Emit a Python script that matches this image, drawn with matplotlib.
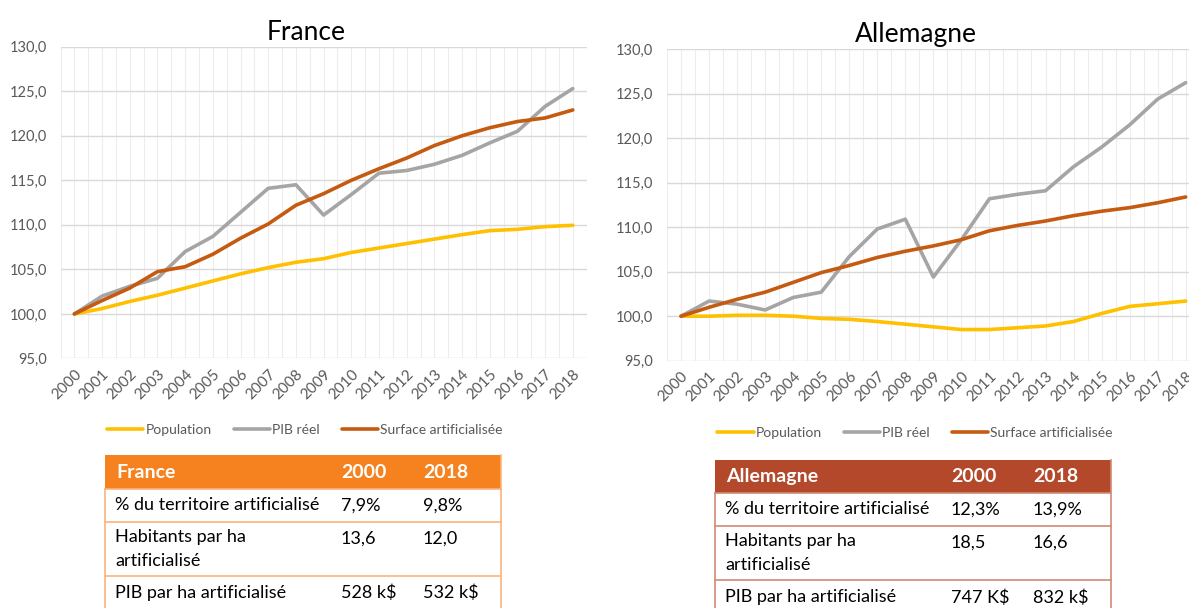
import numpy as np
import matplotlib.pyplot as plt

plt.rcParams['font.family'] = ['Lato', 'DejaVu Sans']

years = [str(y) for y in range(2000, 2019)]

fr_pop = [100.0, 100.6, 101.4, 102.1, 102.9, 103.7, 104.5, 105.2, 105.8, 106.2, 106.9, 107.4, 107.9, 108.4, 108.9, 109.35, 109.5, 109.8, 109.95]
fr_pib = [100.0, 102.0, 103.1, 104.0, 107.0, 108.7, 111.4, 114.1, 114.5, 111.1, 113.4, 115.8, 116.1, 116.8, 117.8, 119.2, 120.5, 123.3, 125.3]
fr_surf = [100.0, 101.5, 102.9, 104.75, 105.3, 106.7, 108.5, 110.1, 112.2, 113.5, 115.0, 116.3, 117.5, 118.9, 120.0, 120.9, 121.6, 122.0, 122.9]

de_pop = [100.0, 100.0, 100.1, 100.1, 100.0, 99.75, 99.65, 99.4, 99.1, 98.8, 98.5, 98.5, 98.7, 98.9, 99.4, 100.3, 101.1, 101.4, 101.7]
de_pib = [100.0, 101.7, 101.35, 100.7, 102.1, 102.7, 106.7, 109.8, 110.9, 104.4, 108.6, 113.2, 113.7, 114.1, 116.8, 119.0, 121.5, 124.4, 126.25]
de_surf = [100.0, 101.0, 101.9, 102.7, 103.8, 104.9, 105.7, 106.6, 107.3, 107.9, 108.6, 109.6, 110.2, 110.7, 111.3, 111.8, 112.2, 112.75, 113.4]

series_names = ['Population', 'PIB réel', 'Surface artificialisée']
series_colors = ['#FFC000', '#A5A5A5', '#C55A11']

row_labels = ['% du territoire artificialisé', 'Habitants par ha\nartificialisé', 'PIB par ha artificialisé']
fr_2000 = ['7,9%', '13,6', '528 k$']
fr_2018 = ['9,8%', '12,0', '532 k$']
de_2000 = ['12,3%', '18,5', '747 K$']
de_2018 = ['13,9%', '16,6', '832 k$']

fig = plt.figure(figsize=(11.89, 6.08), dpi=100)

charts = [('France', [0.0509, 0.4104, 0.4425, 0.5128], [fr_pop, fr_pib, fr_surf], (0.2565, 0.2928)),
          ('Allemagne', [0.561, 0.4068, 0.448, 0.5121], [de_pop, de_pib, de_surf], (0.7696, 0.2873))]

for title, pos, data, leg_pos in charts:
	plt.axes(pos)
	x = np.arange(len(years))
	for values, name, color in zip(data, series_names, series_colors):
		plt.plot(x, values, color=color, lw=2.6, label=name, solid_capstyle='round')
	plt.xlim(-0.5, 18.5)
	plt.ylim(95, 130)
	plt.yticks(np.arange(95, 131, 5), ['{:.1f}'.format(v).replace('.', ',') for v in np.arange(95, 131, 5)])
	plt.xticks(x, years, rotation=45, ha='right', rotation_mode='anchor')
	ax = plt.gca()
	ax.set_xticks(np.arange(-0.5, 19, 1), minor=True)
	ax.set_axisbelow(True)
	plt.grid(axis='x', which='both', color='#EDEDED', lw=0.8)
	plt.grid(axis='y', which='major', color='#D9D9D9', lw=1.0)
	plt.tick_params(axis='both', which='both', length=0, labelcolor='#595959')
	plt.tick_params(axis='y', pad=10, labelsize=10.5)
	plt.tick_params(axis='x', pad=6, labelsize=11)
	for s in ax.spines.values():
		s.set_visible(False)
	plt.title(title, fontsize=19, pad=5, x=0.467)
	plt.legend(loc='center', bbox_to_anchor=leg_pos, bbox_transform=fig.transFigure, ncol=3, frameon=False,
			   fontsize=10, handlelength=2.6, handletextpad=0.15, columnspacing=1.6, labelcolor='#595959')

# tables drawn in pixel space
plt.axes([0, 0, 1, 1])
plt.xlim(0, 1189)
plt.ylim(608, 0)
plt.axis('off')

tables = [('France', '#F5821F', '#F9B47E', 105, 500.7, [455.3, 488.7, 522, 575.7], fr_2000, fr_2018, 341, 423),
          ('Allemagne', '#B4482A', '#CF8C74', 715, 1110.7, [460.3, 493, 525.7, 580.3], de_2000, de_2018, 951, 1033)]

for name, head_col, line_col, x0, x1, ys, v2000, v2018, c2, c3 in tables:
	plt.fill([x0, x1, x1, x0], [ys[0], ys[0], ys[1], ys[1]], color=head_col, lw=0)
	plt.plot([x0, x0], [ys[1], 620], color=line_col, lw=1.2)
	plt.plot([x1, x1], [ys[0], 620], color=line_col, lw=1.2)
	for yl in ys[1:]:
		plt.plot([x0, x1], [yl, yl], color=line_col, lw=1.2)
	yh = (ys[0] + ys[1]) / 2
	for txt, xt in [(name, x0 + 11), ('2000', c2), ('2018', c3)]:
		plt.text(xt, yh, txt, color='white', fontsize=14, fontweight='bold', va='center')
	row_y = [(ys[1] + ys[2]) / 2, ys[2] + 17, ys[3] + 17]
	for label, a, b, yr in zip(row_labels, v2000, v2018, row_y):
		if '\n' in label:
			plt.text(x0 + 10, yr - 10, label, fontsize=13, va='top', linespacing=1.6)
		else:
			plt.text(x0 + 10, yr, label, fontsize=13, va='center')
		plt.text(c2, yr, a, fontsize=13, va='center')
		plt.text(c3, yr, b, fontsize=13, va='center')

plt.savefig('out.png')
